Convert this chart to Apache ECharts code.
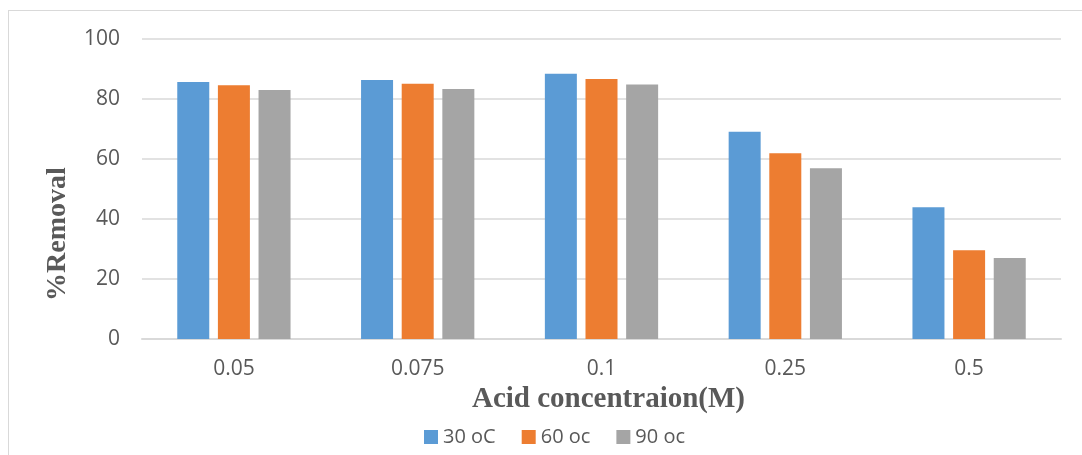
<!DOCTYPE html>
<html>
<head>
<meta charset="utf-8">
<script src="https://cdn.jsdelivr.net/npm/echarts@6/dist/echarts.min.js"></script>
<style>
  html, body { margin: 0; padding: 0; background: #fff; }
  #frame { position: absolute; left: 8px; top: 10px; width: 1074px; height: 445px;
           border-left: 1px solid #d9d9d9; border-top: 1px solid #d9d9d9; box-sizing: border-box; }
  #chart { position: absolute; left: 0; top: 0; width: 1082px; height: 455px; }
</style>
</head>
<body>
<div id="frame"></div>
<div id="chart"></div>
<script>
// 横轴：酸浓度
var concentrations = ['0.05', '0.075', '0.1', '0.25', '0.5'];
var seriesNames = ['30 oC', '60 oc', '90 oc'];
var removal30 = [85.7, 86.3, 88.4, 69.1, 43.9];
var removal60 = [84.6, 85.1, 86.7, 61.9, 29.6];
var removal90 = [83.0, 83.3, 84.8, 56.9, 27.0];
var colors = ['#5b9bd5', '#ed7d31', '#a5a5a5'];
var yTicks = [0, 20, 40, 60, 80, 100];

function makeSeries(name, values, color) {
    return {
        name: name,
        type: 'bar',
        data: values,
        barWidth: 32,
        barGap: '27%',
        itemStyle: { color: color },
        emphasis: { disabled: true }
    };
}

var option = {
    animation: false,
    grid: { left: 142, right: 21, top: 39, bottom: 116 },
    legend: {
        left: 419,
        top: 422,
        itemWidth: 14,
        itemHeight: 14,
        itemGap: 26,
        icon: 'rect',
        textStyle: { fontFamily: 'Open Sans', fontSize: 20, color: '#595959' },
        data: seriesNames
    },
    xAxis: {
        type: 'category',
        data: concentrations,
        name: 'Acid concentraion(M)',
        nameLocation: 'middle',
        nameGap: 43,
        nameTextStyle: { fontFamily: 'Liberation Serif', fontWeight: 'bold', fontSize: 29, color: '#595959', padding: [0, 0, 0, 14] },
        axisLine: { lineStyle: { color: '#d9d9d9', width: 2 } },
        axisTick: { show: false },
        axisLabel: { fontFamily: 'Open Sans', fontSize: 21, color: '#595959', margin: 20 }
    },
    yAxis: {
        type: 'value',
        min: yTicks[0],
        max: yTicks[yTicks.length - 1],
        interval: 20,
        name: '%Removal',
        nameLocation: 'middle',
        nameGap: 70,
        nameTextStyle: { fontFamily: 'Liberation Serif', fontWeight: 'bold', fontSize: 28, color: '#595959', padding: [0, 90, 0, 0] },
        axisLine: { show: false },
        axisTick: { show: false },
        axisLabel: { fontFamily: 'Open Sans', fontSize: 21, color: '#595959', margin: 22 },
        splitLine: { lineStyle: { color: '#d9d9d9', width: 1.5 } }
    },
    series: [
        makeSeries(seriesNames[0], removal30, colors[0]),
        makeSeries(seriesNames[1], removal60, colors[1]),
        makeSeries(seriesNames[2], removal90, colors[2])
    ]
};

var chart = echarts.init(document.getElementById('chart'));
chart.setOption(option);
</script>
</body>
</html>
